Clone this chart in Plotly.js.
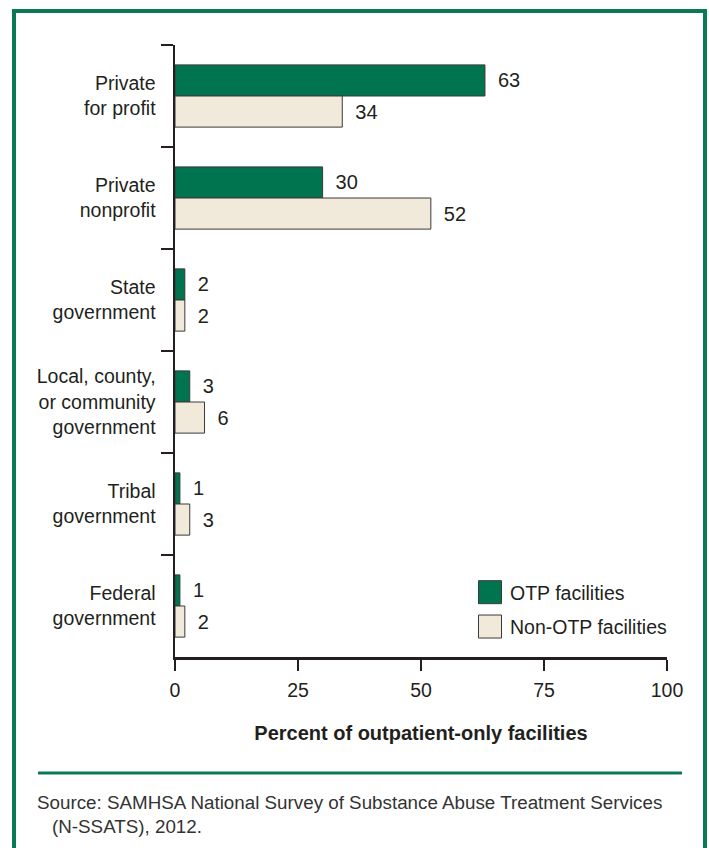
<!DOCTYPE html>
<html>
<head>
<meta charset="utf-8">
<script src="https://cdn.plot.ly/plotly-3.0.1.min.js"></script>
<style>
  html, body { margin: 0; padding: 0; background: #ffffff; }
  #chart { width: 709px; height: 848px; }
</style>
</head>
<body>
<div id="chart"></div>
<script>
// ---- data ----
var categories = [
  "Private<br>for profit",
  "Private<br>nonprofit",
  "State<br>government",
  "Local, county,<br>or community<br>government",
  "Tribal<br>government",
  "Federal<br>government"
];
var otpValues = [63, 30, 2, 3, 1, 1];
var nonOtpValues = [34, 52, 2, 6, 3, 2];
var seriesNames = ["OTP facilities", "Non-OTP facilities"];
var xTickValues = [0, 25, 50, 75, 100];
var xAxisTitle = "Percent of outpatient-only facilities";
var sourceLines = [
  "Source: SAMHSA National Survey of Substance Abuse Treatment Services",
  "(N-SSATS), 2012."
];

// ---- style ----
var W = 709, H = 848;
var M = { l: 175, r: 42, t: 45, b: 191 };
var PW = W - M.l - M.r, PH = H - M.t - M.b;
function px(x) { return (x - M.l) / PW; }
function py(y) { return (H - M.b - y) / PH; }

var FONT = "'Liberation Sans Narrow', 'Arial Narrow', 'Liberation Sans', Arial, sans-serif";
var REG = "'Liberation Sans', Arial, Helvetica, sans-serif";
var FS = 19.5;
var INK = "#231f20";
var GREEN = "#00744f";
var BEIGE = "#f1e9d9";
var FRAME = "#0a7a55";

var traces = [
  {
    type: "bar", orientation: "h", name: seriesNames[0],
    y: categories, x: otpValues,
    marker: { color: GREEN, line: { color: "#3a3a3a", width: 1 } },
    text: otpValues.map(String), texttemplate: "\u2002%{text}",
    textposition: "outside", cliponaxis: false, constraintext: "none",
    textfont: { family: FONT, size: FS + 0.5, color: INK },
    legendgroup: "a", hoverinfo: "skip"
  },
  {
    type: "bar", orientation: "h", name: seriesNames[1],
    y: categories, x: nonOtpValues,
    marker: { color: BEIGE, line: { color: "#3a3a3a", width: 1 } },
    text: nonOtpValues.map(String), texttemplate: "\u2002%{text}",
    textposition: "outside", cliponaxis: false, constraintext: "none",
    textfont: { family: FONT, size: FS + 0.5, color: INK },
    legendgroup: "b", hoverinfo: "skip"
  }
];

var layout = {
  width: W, height: H,
  margin: M,
  paper_bgcolor: "#ffffff", plot_bgcolor: "#ffffff",
  barmode: "group", bargap: 0.39, bargroupgap: 0,
  font: { family: FONT, size: FS, color: INK },
  showlegend: true,
  legend: {
    x: px(470), xanchor: "left", y: py(573), yanchor: "top",
    font: { family: FONT, size: FS, color: INK },
    bgcolor: "rgba(0,0,0,0)", tracegroupgap: 6, traceorder: "grouped"
  },
  xaxis: {
    range: [0, 100], tickvals: xTickValues, ticktext: xTickValues.map(String),
    showline: true, linecolor: INK, linewidth: 2.5,
    ticks: "outside", ticklen: 11, tickwidth: 2.5, tickcolor: INK,
    ticklabelstandoff: 3,
    showgrid: false, zeroline: false,
    tickfont: { family: FONT, size: FS, color: INK },
    title: { text: "<b>" + xAxisTitle + "</b>", standoff: 26,
             font: { family: FONT, size: 20, color: INK } },
    automargin: false, fixedrange: true
  },
  yaxis: {
    type: "category", categoryorder: "array", categoryarray: categories,
    range: [categories.length - 0.5, -0.5],
    showline: true, linecolor: INK, linewidth: 2.5,
    ticks: "outside", tickson: "boundaries", ticklen: 12, tickwidth: 2.5, tickcolor: INK,
    ticklabelstandoff: 13,
    showgrid: false, zeroline: false,
    tickfont: { family: FONT, size: FS, color: INK },
    automargin: false, fixedrange: true
  },
  shapes: [
    { type: "rect", xref: "paper", yref: "paper",
      x0: px(14), x1: px(705), y0: py(11), y1: py(870),
      line: { color: FRAME, width: 4 }, fillcolor: "rgba(0,0,0,0)", layer: "below" },
    { type: "line", xref: "paper", yref: "paper",
      x0: px(38), x1: px(682), y0: py(773), y1: py(773),
      line: { color: FRAME, width: 3 } }
  ],
  annotations: [
    { xref: "paper", yref: "paper", x: px(35), y: py(802), xanchor: "left", yanchor: "middle",
      text: sourceLines[0], showarrow: false, font: { family: REG, size: 18.8, color: "#333333" } },
    { xref: "paper", yref: "paper", x: px(50), y: py(826), xanchor: "left", yanchor: "middle",
      text: sourceLines[1], showarrow: false, font: { family: REG, size: 18.8, color: "#333333" } }
  ]
};

Plotly.newPlot("chart", traces, layout, { staticPlot: true, displayModeBar: false }).then(function () {
  var paths = document.querySelectorAll(".legend .traces .legendpoints path");
  paths.forEach(function (p) { p.setAttribute("d", "M11.5,11.5H-11.5V-11.5H11.5Z"); });
});
</script>
</body>
</html>
